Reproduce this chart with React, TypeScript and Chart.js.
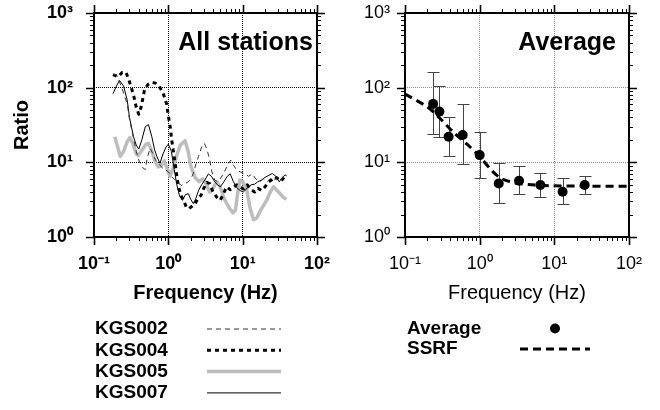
import React, { useEffect, useRef } from 'react';
import { Chart, registerables } from 'chart.js';

Chart.register(...registerables);

const FONT = '"Liberation Sans", Arial, Helvetica, sans-serif';

// ---- axes ----
const xDecades = [0.1, 1, 10, 100];
const xTickLabels = ['10⁻¹', '10⁰', '10¹', '10²'];
const yDecades = [1, 10, 100, 1000];
const yTickLabels = ['10⁰', '10¹', '10²', '10³'];

// ---- left panel: all stations ----
const kgs002Freq = [0.185, 0.2, 0.22, 0.25, 0.28, 0.3, 0.34, 0.37, 0.41, 0.45, 0.49, 0.52, 0.57, 0.62, 0.68, 0.75, 0.82, 0.9, 1.0, 1.1, 1.23, 1.38, 1.51, 1.7, 1.86, 2.0, 2.17, 2.35, 2.55, 2.8, 3.05, 3.3, 3.55, 3.85, 4.2, 4.6, 5.1, 5.6, 6.2, 6.9, 7.6, 8.4, 9.4, 10.8, 12, 13.5, 15, 17, 19, 21.5, 24, 27, 30, 33, 36, 39];
const kgs002Ratio = [150, 150, 120, 85, 60, 38, 21, 14, 10, 8.5, 8, 11.5, 15.5, 13, 10.5, 9.5, 8.5, 8, 7.5, 6.5, 5.8, 5.2, 4.9, 5.2, 5.5, 6, 7.1, 9.5, 12, 16, 18, 15, 11.5, 7.5, 5.8, 5.5, 6.2, 7.2, 9, 10.7, 9, 7.8, 7.4, 7.0, 6.5, 7, 6, 5.5, 6, 5.5, 6.2, 5.8, 6.5, 5.9, 6.6, 6.2];

const kgs004Freq = [0.18, 0.21, 0.24, 0.27, 0.3, 0.34, 0.37, 0.4, 0.43, 0.48, 0.53, 0.6, 0.67, 0.75, 0.85, 0.95, 1.0, 1.06, 1.11, 1.17, 1.23, 1.3, 1.38, 1.48, 1.6, 1.75, 1.9, 2.1, 2.3, 2.5, 2.75, 3.0, 3.3, 3.6, 4.0, 4.5, 5.0, 5.5, 6.1, 6.8, 7.5, 8.3, 9.2, 10.2, 11.5, 13, 14.5, 16, 18, 20, 22, 24.5, 27, 30, 33, 36, 39];
const kgs004Ratio = [150, 140, 160, 160, 120, 80, 55, 44, 55, 95, 110, 118, 115, 105, 85, 60, 42, 30, 20, 14, 10, 6.5, 4.6, 3.6, 3.1, 2.5, 2.4, 2.6, 2.8, 3.3, 3.6, 4.5, 5.4, 5.2, 4.0, 3.4, 3.1, 3.8, 4.7, 4.3, 4.6, 5.0, 4.7, 4.4, 5.0, 4.3, 4.0, 4.5, 4.2, 4.7, 5.4, 5.8, 6.4, 6.0, 5.6, 6.3, 5.8];

const kgs005Freq = [0.19, 0.205, 0.225, 0.25, 0.28, 0.305, 0.34, 0.37, 0.395, 0.44, 0.5, 0.54, 0.6, 0.66, 0.73, 0.8, 0.88, 0.95, 1.05, 1.15, 1.3, 1.45, 1.68, 1.85, 2.0, 2.3, 2.6, 2.9, 3.2, 3.6, 4.0, 4.5, 5.0, 5.7, 6.5, 7.4, 8.0, 8.6, 9.2, 10, 11.4, 12.5, 14, 15.5, 17.5, 21, 23.5, 26, 29, 32, 35, 39];
const kgs005Ratio = [22, 17, 12, 14, 19, 21.5, 17, 13, 12.3, 14.5, 17.5, 18, 14, 10.5, 8.7, 9, 10.5, 8.5, 6.5, 8, 12.5, 17, 19.5, 14, 9, 6.2, 5.5, 6, 5.2, 4, 4.5, 5.5, 4.6, 3.2, 2.5, 2.1, 2.3, 4, 5.8, 5.5, 4.2, 2.5, 1.7, 1.8, 2.3, 3.1, 4, 4.7, 4.2, 3.8, 3.4, 3.2];

const kgs007Freq = [0.18, 0.2, 0.22, 0.25, 0.28, 0.3, 0.34, 0.37, 0.4, 0.44, 0.49, 0.54, 0.6, 0.65, 0.7, 0.77, 0.85, 0.93, 1.0, 1.1, 1.2, 1.3, 1.42, 1.55, 1.7, 1.86, 2.0, 2.17, 2.35, 2.55, 2.8, 3.1, 3.45, 3.8, 4.2, 4.6, 5.0, 5.6, 6.2, 6.8, 7.5, 8.3, 9.2, 10.2, 11.5, 13, 14.5, 16, 18, 20, 22.5, 25, 28, 31, 34, 37, 39];
const kgs007Ratio = [83, 105, 125, 105, 68, 40, 22, 17, 15, 20, 30, 32, 22, 15, 12, 9.7, 13, 16, 17.5, 14, 8, 5, 3.5, 3.1, 3.7, 3.8, 3.2, 2.8, 3.3, 4.2, 5, 5.8, 7, 6.5, 5.5, 5.0, 4.7, 5.5, 6.5, 7.0, 5.5, 4.6, 4.2, 4.0, 4.5, 5.0, 5.1, 5.5, 5.8, 6.3, 6.7, 7.1, 6.5, 5.5, 6.2, 6.8, 6.6];

// ---- right panel: average ----
const avgFreq = [0.238, 0.289, 0.384, 0.592, 1.0, 1.8, 3.37, 6.5, 12.9, 25.5];
const avgRatio = [60.6, 47.8, 22, 23.2, 12.5, 5.2, 5.66, 4.96, 4.03, 4.96];
const avgLow = [23.8, 22, 12.3, 9.4, 6.2, 2.87, 3.72, 3.4, 2.75, 3.75];
const avgHigh = [164, 106.6, 40.9, 60.6, 25.7, 9.7, 9.0, 7.1, 6.1, 6.6];
const ssrfFreq = [0.1, 0.2, 0.3, 0.45, 0.7, 1.0, 1.5, 2.0, 3.0, 5.0, 10, 30, 95];
const ssrfRatio = [82, 55, 38, 25, 17, 12, 7.5, 6.0, 5.3, 5.0, 4.85, 4.8, 4.8];

const pts = (f: number[], r: number[]) => f.map((v, i) => ({ x: v, y: r[i] }));
const isDec = (v: number, decs: number[]) => decs.some((d) => Math.abs(v / d - 1) < 1e-6);
const tickValues = (decs: number[]) => {
  const out: number[] = [];
  for (let i = 0; i < decs.length - 1; i++) {
    for (let m = 1; m < 10; m++) out.push(+(decs[i] * m).toPrecision(6));
  }
  out.push(decs[decs.length - 1]);
  return out;
};
const labelFor = (v: number, decs: number[], labels: string[]) => {
  const i = decs.findIndex((d) => Math.abs(v / d - 1) < 1e-6);
  return i >= 0 ? labels[i] : '';
};
const zeroPad = (s: any) => {
  s.paddingTop = 0;
  s.paddingBottom = 0;
  s.paddingLeft = 0;
  s.paddingRight = 0;
};

function makeScales(o: { bold: boolean; grid: string; yWidth: number; yPad: number; yTitle: boolean }) {
  const weight = o.bold ? 'bold' : 'normal';
  const gridColor = (decs: number[]) => (c: any) => {
    const v = c.tick ? c.tick.value : undefined;
    if (v === undefined) return 'rgba(0,0,0,0)';
    return isDec(v, decs) && v !== decs[0] && v !== decs[decs.length - 1] ? o.grid : 'rgba(0,0,0,0)';
  };
  return {
    x: {
      type: 'logarithmic',
      min: 0.1,
      max: 100,
      afterBuildTicks: (s: any) => {
        s.ticks = tickValues(xDecades).map((v) => ({ value: v, major: isDec(v, xDecades) }));
      },
      afterFit: (s: any) => {
        s.height = 68;
        zeroPad(s);
      },
      ticks: {
        autoSkip: false,
        maxRotation: 0,
        minRotation: 0,
        padding: 16,
        color: '#000',
        font: { family: FONT, size: 18, weight },
        callback: (v: number) => labelFor(v, xDecades, xTickLabels),
      },
      grid: { drawTicks: false, lineWidth: 1, color: gridColor(xDecades) },
      border: { display: false, dash: [1, 1] },
      title: {
        display: true,
        text: 'Frequency (Hz)',
        color: '#000',
        font: { family: FONT, size: 20, weight },
        padding: { top: 0, bottom: 0 },
      },
    },
    y: {
      type: 'logarithmic',
      min: 1,
      max: 1000,
      afterBuildTicks: (s: any) => {
        s.ticks = tickValues(yDecades).map((v) => ({ value: v, major: isDec(v, yDecades) }));
      },
      afterFit: (s: any) => {
        s.width = o.yWidth;
        zeroPad(s);
      },
      ticks: {
        autoSkip: false,
        padding: o.yPad,
        color: '#000',
        font: { family: FONT, size: 18, weight },
        callback: (v: number) => labelFor(v, yDecades, yTickLabels),
      },
      grid: { drawTicks: false, lineWidth: 1, color: gridColor(yDecades) },
      border: { display: false, dash: [1, 1] },
      title: {
        display: o.yTitle,
        text: 'Ratio',
        color: '#000',
        font: { family: FONT, size: 20, weight: 'bold' },
        padding: { top: 10, bottom: 0 },
      },
    },
  };
}

const framePlugin = {
  id: 'frameTicks',
  afterDraw(chart: any) {
    const { ctx, chartArea: a, scales } = chart;
    const x = scales.x;
    const y = scales.y;
    ctx.save();
    ctx.strokeStyle = '#000';
    const drawSet = (major: boolean) => {
      ctx.lineWidth = major ? 1.6 : 1;
      const len = major ? 8 : 4;
      ctx.beginPath();
      for (const v of tickValues(xDecades)) {
        if (isDec(v, xDecades) !== major) continue;
        const px = Math.round(x.getPixelForValue(v)) + 0.5;
        ctx.moveTo(px, a.bottom);
        ctx.lineTo(px, a.bottom + len);
        ctx.moveTo(px, a.top);
        ctx.lineTo(px, a.top - len);
      }
      for (const v of tickValues(yDecades)) {
        if (isDec(v, yDecades) !== major) continue;
        const py = Math.round(y.getPixelForValue(v)) + 0.5;
        ctx.moveTo(a.left, py);
        ctx.lineTo(a.left - len, py);
        ctx.moveTo(a.right, py);
        ctx.lineTo(a.right + len, py);
      }
      ctx.stroke();
    };
    drawSet(false);
    drawSet(true);
    ctx.lineWidth = 2;
    ctx.strokeRect(a.left, a.top, a.right - a.left, a.bottom - a.top);
    ctx.restore();
  },
};

const panelLabel = (text: string, inset: number) => ({
  id: 'panelLabel',
  afterDraw(chart: any) {
    const { ctx, chartArea: a } = chart;
    ctx.save();
    ctx.fillStyle = '#000';
    ctx.font = `bold 25px ${FONT}`;
    ctx.textAlign = 'right';
    ctx.textBaseline = 'middle';
    ctx.fillText(text, a.right - inset, a.top + 30);
    ctx.restore();
  },
});

const legendBelow = (cfg: { textX: number; x1: number; x2: number; y0: number; dy: number }) => ({
  id: 'legendBelow',
  afterDraw(chart: any) {
    const { ctx } = chart;
    ctx.save();
    chart.data.datasets.forEach((ds: any, i: number) => {
      const yy = cfg.y0 + i * cfg.dy;
      ctx.fillStyle = '#000';
      ctx.font = `bold 19px ${FONT}`;
      ctx.textAlign = 'left';
      ctx.textBaseline = 'middle';
      ctx.fillText(ds.label, cfg.textX, yy);
      if (ds.showLine === false) {
        ctx.beginPath();
        ctx.fillStyle = ds.backgroundColor;
        ctx.arc((cfg.x1 + cfg.x2) / 2, yy, ds.pointRadius, 0, Math.PI * 2);
        ctx.fill();
      } else {
        ctx.beginPath();
        ctx.strokeStyle = ds.borderColor;
        ctx.lineWidth = ds.borderWidth;
        ctx.setLineDash(ds.borderDash || []);
        ctx.moveTo(cfg.x1, yy);
        ctx.lineTo(cfg.x2, yy);
        ctx.stroke();
        ctx.setLineDash([]);
      }
    });
    ctx.restore();
  },
});

const errorBarPlugin = {
  id: 'errorBars',
  beforeDatasetsDraw(chart: any) {
    const { ctx, scales } = chart;
    const x = scales.x;
    const y = scales.y;
    ctx.save();
    ctx.strokeStyle = '#444';
    ctx.lineWidth = 1;
    ctx.beginPath();
    avgFreq.forEach((f, i) => {
      const px = Math.round(x.getPixelForValue(f)) + 0.5;
      const top = Math.round(y.getPixelForValue(avgHigh[i])) + 0.5;
      const bot = Math.round(y.getPixelForValue(avgLow[i])) + 0.5;
      ctx.moveTo(px, top);
      ctx.lineTo(px, bot);
      ctx.moveTo(px - 6, top);
      ctx.lineTo(px + 6, top);
      ctx.moveTo(px - 6, bot);
      ctx.lineTo(px + 6, bot);
    });
    ctx.stroke();
    ctx.restore();
  },
};

export default function App() {
  const leftRef = useRef<HTMLCanvasElement | null>(null);
  const rightRef = useRef<HTMLCanvasElement | null>(null);

  useEffect(() => {
    const lineBase = { pointRadius: 0, tension: 0, fill: false, borderJoinStyle: 'round' as const };
    const left = new Chart(leftRef.current as HTMLCanvasElement, {
      type: 'line',
      data: {
        datasets: [
          { ...lineBase, label: 'KGS002', data: pts(kgs002Freq, kgs002Ratio), borderColor: '#333333', borderWidth: 1, borderDash: [5, 4], order: 0 },
          { ...lineBase, label: 'KGS004', data: pts(kgs004Freq, kgs004Ratio), borderColor: '#000000', borderWidth: 3, borderDash: [4, 4], order: 0 },
          { ...lineBase, label: 'KGS005', data: pts(kgs005Freq, kgs005Ratio), borderColor: '#bdbdbd', borderWidth: 3.5, order: 5 },
          { ...lineBase, label: 'KGS007', data: pts(kgs007Freq, kgs007Ratio), borderColor: '#000000', borderWidth: 1, order: 0 },
        ] as any,
      },
      options: {
        responsive: false,
        animation: false,
        events: [],
        layout: { padding: { left: 0, right: 23, top: 13, bottom: 105 } },
        plugins: { legend: { display: false }, tooltip: { enabled: false } },
        scales: makeScales({ bold: true, grid: '#000000', yWidth: 94, yPad: 21, yTitle: true }) as any,
      },
      plugins: [framePlugin, panelLabel('All stations', 4), legendBelow({ textX: 95, x1: 207, x2: 281, y0: 329, dy: 21.3 })],
    });

    const right = new Chart(rightRef.current as HTMLCanvasElement, {
      type: 'line',
      data: {
        datasets: [
          { type: 'scatter', label: 'Average', data: pts(avgFreq, avgRatio), showLine: false, pointRadius: 5, pointBackgroundColor: '#000', backgroundColor: '#000', borderColor: '#000', pointBorderWidth: 0, order: 0 },
          { ...lineBase, label: 'SSRF', data: pts(ssrfFreq, ssrfRatio), borderColor: '#000000', borderWidth: 3, borderDash: [8, 5], tension: 0.3, order: 1 },
        ] as any,
      },
      options: {
        responsive: false,
        animation: false,
        events: [],
        layout: { padding: { left: 0, right: 31, top: 13, bottom: 105 } },
        plugins: { legend: { display: false }, tooltip: { enabled: false } },
        scales: makeScales({ bold: false, grid: '#8c8c8c', yWidth: 75, yPad: 15, yTitle: false }) as any,
      },
      plugins: [errorBarPlugin, framePlugin, panelLabel('Average', 13), legendBelow({ textX: 77, x1: 190, x2: 260, y0: 328.5, dy: 20.5 })],
    });

    return () => {
      left.destroy();
      right.destroy();
    };
  }, []);

  return (
    <div style={{ position: 'absolute', left: 0, top: 0, width: 660, height: 410, background: '#fff', overflow: 'hidden' }}>
      <canvas ref={leftRef} width={340} height={410} style={{ position: 'absolute', left: 0, top: 0, width: 340, height: 410 }} />
      <canvas ref={rightRef} width={330} height={410} style={{ position: 'absolute', left: 330, top: 0, width: 330, height: 410 }} />
    </div>
  );
}
